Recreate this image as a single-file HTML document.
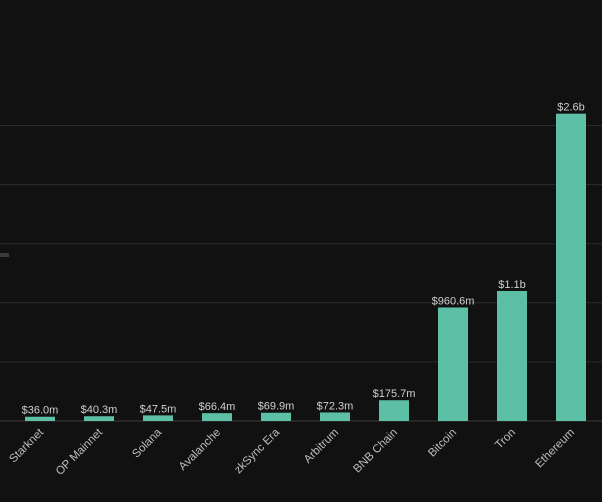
<!DOCTYPE html>
<html><head><meta charset="utf-8"><style>
html,body{margin:0;padding:0;background:#111111;}
svg{display:block;font-family:"Liberation Sans",sans-serif;}
</style></head><body>
<svg id="chart" width="602" height="502" viewBox="0 0 602 502">
<rect x="0" y="0" width="602" height="502" fill="#111111"/>
<rect x="0" y="253" width="9" height="4" fill="#3a3a3a"/>
<g id="grid"></g><g id="bars"></g><g id="labels"></g><g id="xlabels"></g>
</svg>
<script>
const categories = ["Starknet","OP Mainnet","Solana","Avalanche","zkSync Era","Arbitrum","BNB Chain","Bitcoin","Tron","Ethereum"];
const values = [0.0360,0.0403,0.0475,0.0664,0.0699,0.0723,0.1757,0.9606,1.1,2.6];
const valueLabels = ["$36.0m","$40.3m","$47.5m","$66.4m","$69.9m","$72.3m","$175.7m","$960.6m","$1.1b","$2.6b"];
const gridTicks = [0,0.5,1,1.5,2,2.5];
const NS="http://www.w3.org/2000/svg";
const base=421, pxPerB=118.2;
function y(v){return base - v*pxPerB;}
function xc(i){return 40 + i*59;}
const barW=30;
function mk(tag,attrs,parent){const e=document.createElementNS(NS,tag);for(const k in attrs)e.setAttribute(k,attrs[k]);parent.appendChild(e);return e;}
const grid=document.getElementById('grid'),bars=document.getElementById('bars'),labels=document.getElementById('labels'),xl=document.getElementById('xlabels');
gridTicks.forEach(t=>{
  const l=mk('line',{x1:0,x2:602,y1:y(t),y2:y(t),stroke:t===0?'#3a3a3a':'#2b2b2b','stroke-width':1},grid);
  
  
});
categories.forEach((c,i)=>{
  const r=mk('rect',{x:xc(i)-barW/2,y:y(values[i]),width:barW,height:base-y(values[i]),fill:'#5dbfa5'},bars);
  
  
  const t=mk('text',{x:xc(i),y:y(values[i])-3,'text-anchor':'middle','font-size':11,fill:'#cfcfcf'},labels);
  t.textContent=valueLabels[i];
  
  
  const a=mk('text',{x:0,y:0,'text-anchor':'end','font-size':11.5,fill:'#bdbdbd',transform:'translate('+(xc(i)+4)+','+(433)+') rotate(-45)'},xl);
  a.textContent=c;
  
  
});
</script>
</body></html>
